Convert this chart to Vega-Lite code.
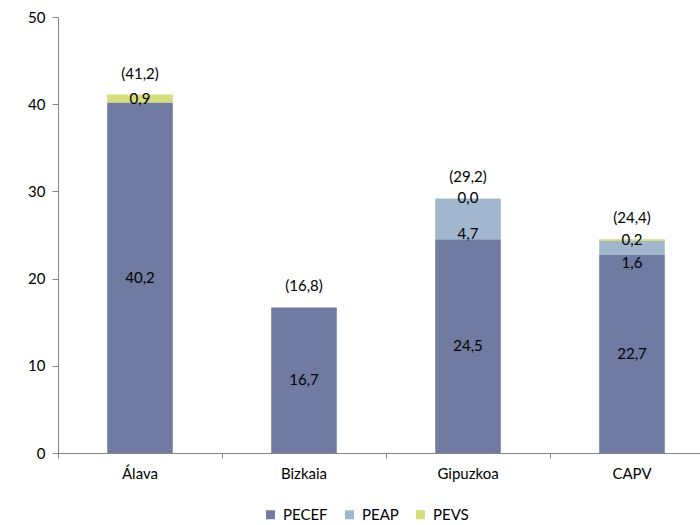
{
  "$schema": "https://vega.github.io/schema/vega-lite/v6.json",
  "width": 642,
  "height": 436,
  "autosize": "none",
  "padding": {"left": 58, "top": 17, "right": 0, "bottom": 72},
  "background": "white",
  "config": {
    "font": "Lato",
    "view": {"stroke": null},
    "axis": {"labelFont": "Lato", "labelFontSize": 15, "labelColor": "#000000", "domainColor": "#868686", "tickColor": "#868686", "grid": false, "title": null}
  },
  "datasets": {
    "seg": [
      {"region": "Álava", "serie": "PECEF", "value": 40.2},
      {"region": "Álava", "serie": "PEVS", "value": 0.9},
      {"region": "Bizkaia", "serie": "PECEF", "value": 16.7},
      {"region": "Gipuzkoa", "serie": "PECEF", "value": 24.5},
      {"region": "Gipuzkoa", "serie": "PEAP", "value": 4.7},
      {"region": "Gipuzkoa", "serie": "PEVS", "value": 0.0},
      {"region": "CAPV", "serie": "PECEF", "value": 22.7},
      {"region": "CAPV", "serie": "PEAP", "value": 1.6},
      {"region": "CAPV", "serie": "PEVS", "value": 0.2}
    ],
    "tot": [
      {"region": "Álava", "top": 41.1, "total": 41.2},
      {"region": "Bizkaia", "top": 16.7, "total": 16.8},
      {"region": "Gipuzkoa", "top": 29.2, "total": 29.2},
      {"region": "CAPV", "top": 24.5, "total": 24.4}
    ]
  },
  "layer": [
    {
      "data": {"name": "seg"},
      "transform": [
        {"calculate": "indexof(['PECEF','PEAP','PEVS'], datum.serie)", "as": "ord"},
        {"stack": "value", "groupby": ["region"], "sort": [{"field": "ord", "order": "ascending"}], "as": ["v0", "v1"]},
        {"calculate": "(datum.v0 + datum.v1) / 2", "as": "mid"},
        {"calculate": "replace(format(datum.value, '.1f'), '.', ',')", "as": "lbl"}
      ],
      "layer": [
        {
          "mark": {"type": "bar", "width": {"band": 0.4}},
          "encoding": {
            "x": {
              "field": "region", "type": "nominal",
              "sort": ["Álava", "Bizkaia", "Gipuzkoa", "CAPV"],
              "scale": {"range": [0, 656], "paddingInner": 0, "paddingOuter": 0},
              "axis": {"labelAngle": 0, "bandPosition": 0, "tickSize": 5, "labelPadding": 8, "domainWidth": 1}
            },
            "y": {
              "field": "v0", "type": "quantitative",
              "scale": {"domain": [0, 50], "nice": false},
              "axis": {"values": [0, 10, 20, 30, 40, 50], "tickSize": 6, "labelPadding": 7}
            },
            "y2": {"field": "v1"},
            "color": {
              "field": "serie", "type": "nominal",
              "sort": ["PECEF", "PEAP", "PEVS"],
              "scale": {"domain": ["PECEF", "PEAP", "PEVS"], "range": ["#707BA1", "#A1B7CE", "#D5DD7D"]},
              "legend": {
                "title": null, "orient": "none", "direction": "horizontal",
                "legendX": 205, "legendY": 490,
                "symbolType": "square", "symbolSize": 81, "symbolStrokeWidth": 0,
                "labelFont": "Lato", "labelFontSize": 15, "labelColor": "#000000",
                "labelOffset": 5, "columnPadding": 14, "padding": 0
              }
            }
          }
        },
        {
          "transform": [{"filter": "datum.serie !== 'PEAP'"}],
          "mark": {"type": "text", "font": "Lato", "fontSize": 15, "color": "#000000"},
          "encoding": {
            "x": {"field": "region", "type": "nominal", "sort": ["Álava", "Bizkaia", "Gipuzkoa", "CAPV"]},
            "y": {"field": "mid", "type": "quantitative"},
            "text": {"field": "lbl"}
          }
        },
        {
          "transform": [{"filter": "datum.serie === 'PEAP'"}],
          "mark": {"type": "text", "font": "Lato", "fontSize": 15, "color": "#000000", "dy": 15},
          "encoding": {
            "x": {"field": "region", "type": "nominal", "sort": ["Álava", "Bizkaia", "Gipuzkoa", "CAPV"]},
            "y": {"field": "mid", "type": "quantitative"},
            "text": {"field": "lbl"}
          }
        }
      ]
    },
    {
      "data": {"name": "tot"},
      "transform": [
        {"calculate": "'(' + replace(format(datum.total, '.1f'), '.', ',') + ')'", "as": "lbl"}
      ],
      "mark": {"type": "text", "font": "Lato", "fontSize": 15, "color": "#000000", "dy": -21},
      "encoding": {
        "x": {"field": "region", "type": "nominal", "sort": ["Álava", "Bizkaia", "Gipuzkoa", "CAPV"]},
        "y": {"field": "top", "type": "quantitative"},
        "text": {"field": "lbl"}
      }
    }
  ]
}
